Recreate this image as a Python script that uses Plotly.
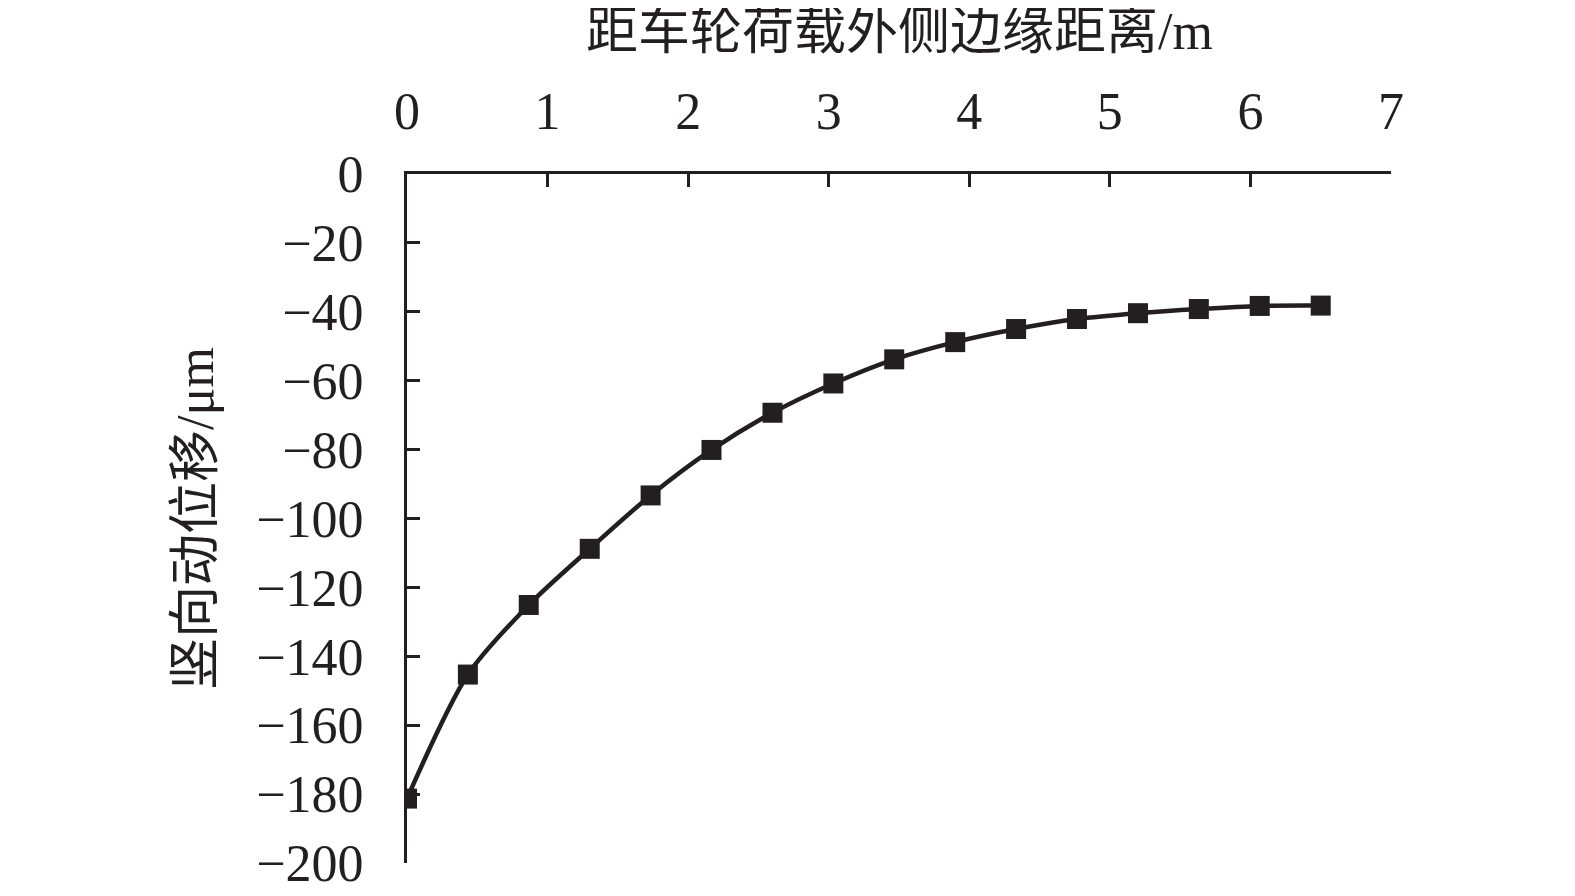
import plotly.graph_objects as go

# 距车轮荷载外侧边缘距离 (m) 与竖向动位移 (μm)
distance = [0, 0.433, 0.866, 1.3, 1.733, 2.166, 2.6, 3.033, 3.466, 3.9, 4.333, 4.766, 5.2, 5.633, 6.066, 6.5]
displacement = [-181.3, -145.3, -125.1, -108.8, -93.3, -80.1, -69.3, -60.8, -53.8, -48.8, -45.0, -42.1, -40.4, -39.2, -38.3, -38.2]

x_ticks = [0, 1, 2, 3, 4, 5, 6, 7]
y_ticks = [0, -20, -40, -60, -80, -100, -120, -140, -160, -180, -200]

font_family = "Liberation Serif, Noto Sans CJK SC"
ink = "#231f20"

fig = go.Figure()
fig.add_trace(go.Scatter(
    x=distance, y=displacement, mode="lines+markers",
    line=dict(color=ink, width=4.5, shape="spline", smoothing=0.8),
    marker=dict(symbol="square", size=20, color=ink),
    showlegend=False,
))

fig.update_xaxes(
    side="top", range=[0, 7], tickvals=x_ticks, automargin=False,
    showline=True, linewidth=3, linecolor=ink,
    ticks="inside", ticklen=13, tickwidth=3, tickcolor=ink,
    showgrid=False, zeroline=False,
    tickfont=dict(size=52, color=ink), ticklabelstandoff=21,
)
fig.update_yaxes(
    range=[-200, 0], tickvals=y_ticks, automargin=False,
    showline=True, linewidth=3, linecolor=ink,
    ticks="inside", ticklen=13, tickwidth=3, tickcolor=ink,
    showgrid=False, zeroline=False,
    tickfont=dict(size=52, color=ink), ticklabelstandoff=30,
    title=dict(text="竖向动位移/μm", font=dict(size=52, color=ink), standoff=27),
)
# x 轴标题放在顶部
fig.add_annotation(
    text="距车轮荷载外侧边缘距离/m", xref="paper", yref="paper", x=0.5, y=1,
    xanchor="center", yanchor="middle", yshift=143, showarrow=False,
    font=dict(size=52, color=ink),
)
fig.update_layout(
    width=1575, height=896,
    margin=dict(l=399, r=192, t=166, b=41),
    plot_bgcolor="white", paper_bgcolor="white",
    font=dict(family=font_family),
)
fig.write_html("out.html")
